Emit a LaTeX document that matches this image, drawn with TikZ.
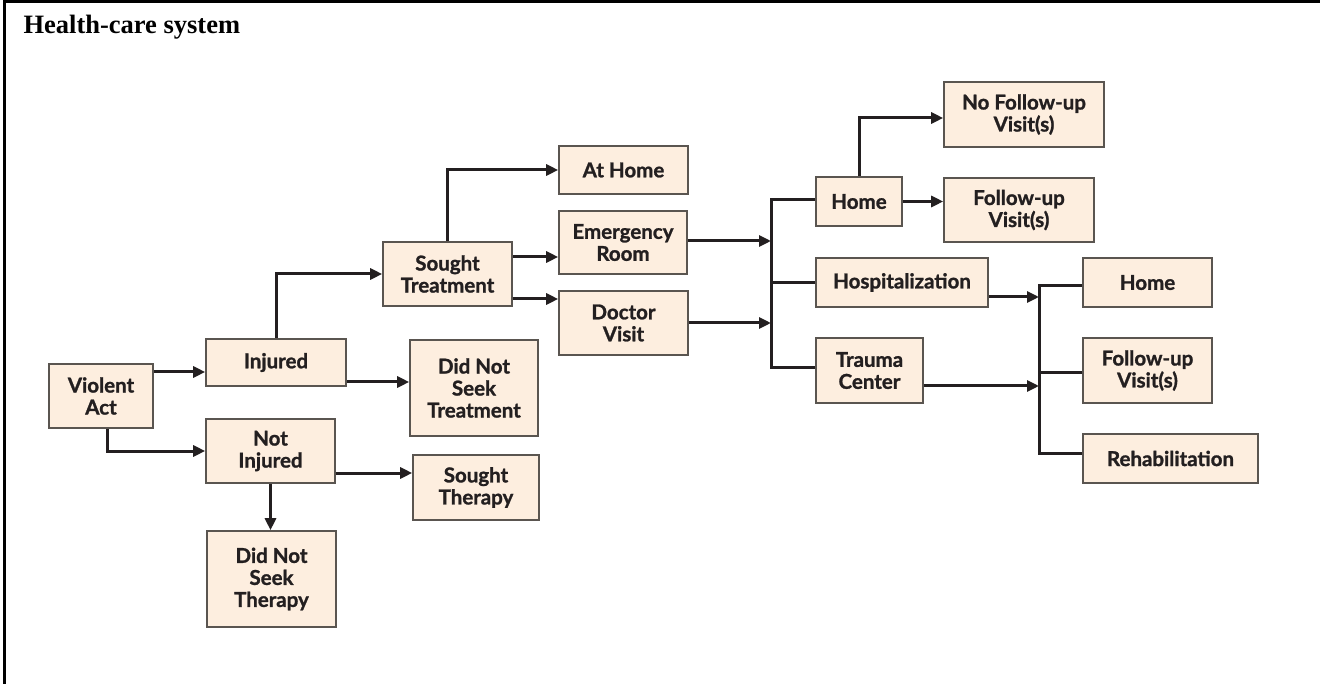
\documentclass[tikz,border=0pt]{standalone}
\usepackage{fontspec}
\setmainfont{Liberation Serif}
\newfontfamily\boxfont[BoldFeatures={FakeBold=1.2}]{Lato}
\usetikzlibrary{arrows.meta,calc}
\definecolor{boxfill}{HTML}{FDEEDF}
\definecolor{boxline}{HTML}{5A5550}
\definecolor{ink}{HTML}{231F20}
\begin{document}
\begin{tikzpicture}[x=1pt,y=-1pt,
  box/.style={draw=boxline,line width=1.6pt,fill=boxfill,inner sep=0pt,align=center,
    text=ink,font=\boxfont\bfseries\fontsize{20.5}{22}\selectfont},
  ln/.style={draw=ink,line width=3pt},
  arr/.style={ln,-{Triangle[length=12pt,width=11pt]}}]
\useasboundingbox (0,0) rectangle (1320,684);
\draw[line width=3pt,black] (4.5,700) -- (4.5,2) -- (1330,2);
\node[anchor=base west,font=\bfseries\fontsize{26.5}{30}\selectfont] (title) at (20,34) {Health-care system};
% boxes
\node[box,minimum width=104pt,minimum height=64pt] (viol) at (101,396) {Violent\\Act};
\node[box,minimum width=140pt,minimum height=47pt] (inj) at (276,362.5) {Injured};
\node[box,minimum width=129pt,minimum height=64pt] (notinj) at (270.5,451) {Not\\Injured};
\node[box,minimum width=129pt,minimum height=96pt] (dnsth) at (271.5,579) {Did Not\\Seek\\Therapy};
\node[box,minimum width=129pt,minimum height=64pt] (sought) at (447.5,274) {Sought\\Treatment};
\node[box,minimum width=128pt,minimum height=96pt] (dnstr) at (474,388) {Did Not\\Seek\\Treatment};
\node[box,minimum width=126pt,minimum height=65pt] (sth) at (476,487.5) {Sought\\Therapy};
\node[box,minimum width=129pt,minimum height=48pt] (athome) at (623.5,170) {At Home};
\node[box,minimum width=128pt,minimum height=63pt] (er) at (623,242.5) {Emergency\\Room};
\node[box,minimum width=129pt,minimum height=64pt] (dv) at (623.5,323) {Doctor\\Visit};
\node[box,minimum width=86pt,minimum height=49pt] (home) at (859,201.5) {Home};
\node[box,minimum width=160pt,minimum height=65pt] (nofu) at (1024,114.5) {No Follow-up\\Visit(s)};
\node[box,minimum width=150pt,minimum height=64pt] (fu) at (1019,210) {Follow-up\\Visit(s)};
\node[box,minimum width=172pt,minimum height=49pt] (hosp) at (902,282.5) {Hospitalization};
\node[box,minimum width=107pt,minimum height=65pt] (trauma) at (869.5,370.5) {Trauma\\Center};
\node[box,minimum width=129pt,minimum height=49pt] (home2) at (1147.5,282.5) {Home};
\node[box,minimum width=129pt,minimum height=65pt] (fu2) at (1147.5,370.5) {Follow-up\\Visit(s)};
\node[box,minimum width=175pt,minimum height=49pt] (rehab) at (1170.5,458.5) {Rehabilitation};
\coordinate (busL) at (771,0);
\coordinate (busR) at (1039,0);
% connectors
\draw[arr] ([yshift=24pt]viol.east) -- ([yshift=24pt]viol.east -| inj.west);
\draw[arr] ([xshift=6pt]viol.south) |- (notinj.west);
\draw[arr] (notinj.south) -- (notinj.south |- dnsth.north);
\draw[arr] (inj.north) |- (sought.west);
\draw[arr] ([yshift=-19.5pt]inj.east) -- ([yshift=-19.5pt]inj.east -| dnstr.west);
\draw[arr] ([yshift=-22pt]notinj.east) -- ([yshift=-22pt]notinj.east -| sth.west);
\draw[arr] (sought.north) |- (athome.west);
\draw[arr] ([yshift=17pt]sought.east) -- ([yshift=17pt]sought.east -| er.west);
\draw[arr] ([yshift=-25pt]sought.east) -- ([yshift=-25pt]sought.east -| dv.west);
\draw[arr] ([yshift=1.5pt]er.east) -- ([yshift=1.5pt]er.east -| busL);
\draw[arr] (dv.east) -- (dv.east -| busL);
\draw[ln] ([yshift=1.5pt]home.west) -| ([yshift=2.5pt]trauma.west -| busL) -- ([yshift=2.5pt]trauma.west);
\draw[ln] (hosp.west) -- (hosp.west -| busL);
\draw[arr] (home.north) |- ([yshift=-3.5pt]nofu.west);
\draw[arr] (home.east) -- (home.east -| fu.west);
\draw[arr] ([yshift=-14.5pt]hosp.east) -- ([yshift=-14.5pt]hosp.east -| busR);
\draw[arr] ([yshift=-15.5pt]trauma.east) -- ([yshift=-15.5pt]trauma.east -| busR);
\draw[ln] ([yshift=-3.5pt]home2.west) -| ([yshift=5.5pt]rehab.west -| busR) -- ([yshift=5.5pt]rehab.west);
\draw[ln] ([yshift=-2.5pt]fu2.west) -- ([yshift=-2.5pt]fu2.west -| busR);
\end{tikzpicture}
\end{document}
